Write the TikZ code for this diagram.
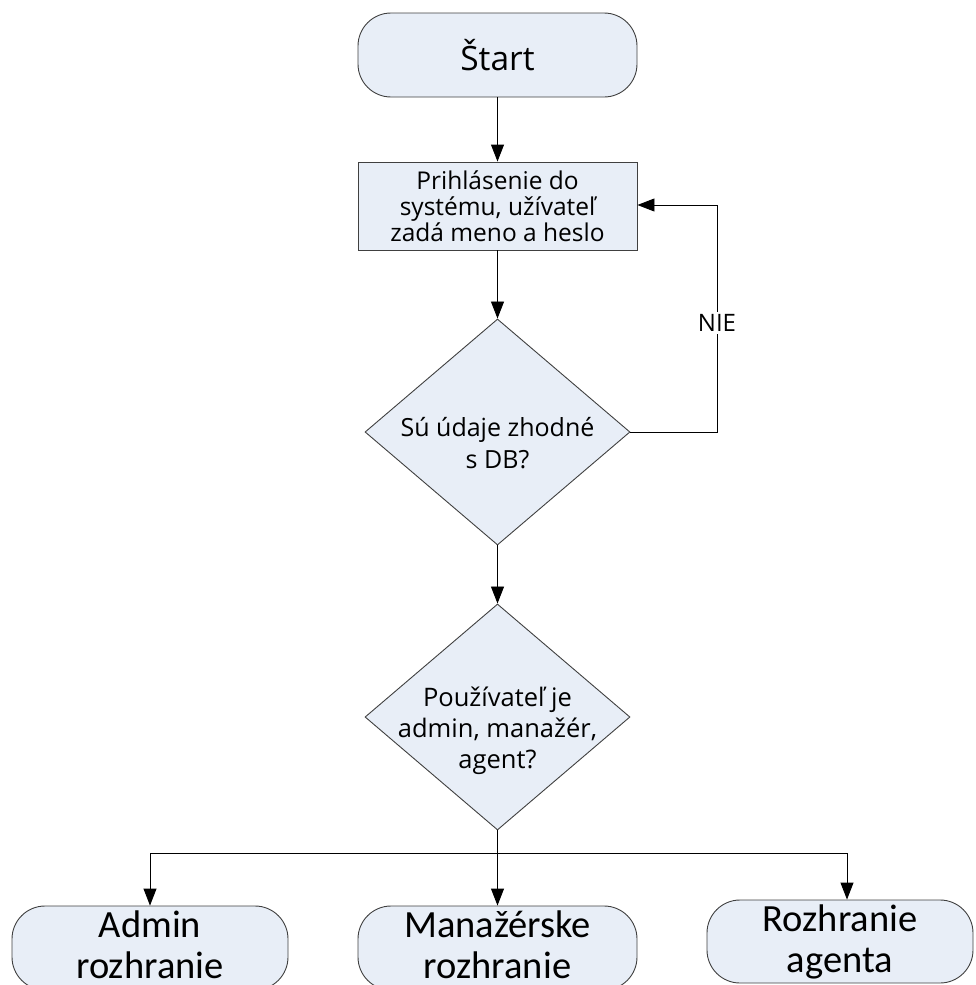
\documentclass[tikz,border=0pt]{standalone}
\usepackage{fontspec}
\setmainfont{Open Sans}
\newfontfamily\calib{Carlito}
\usetikzlibrary{arrows.meta,shapes.geometric}
\definecolor{shapefill}{RGB}{232,238,247}
\definecolor{edgegrey}{RGB}{64,64,64}
\tikzset{
  base/.style={draw=edgegrey, line width=0.9pt, fill=shapefill, inner sep=0pt, align=center},
  terminal/.style={base, rectangle, rounded corners=33pt, minimum width=279pt, minimum height=84pt},
  process/.style={base, rectangle, minimum width=279pt, minimum height=88pt},
  decision/.style={base, diamond, minimum width=265pt, minimum height=226pt},
  lbl/.style={inner sep=0pt, align=center},
  flow/.style={draw=black, line width=0.9pt, -{Triangle[length=17pt,width=13pt]}},
  link/.style={draw=black, line width=0.9pt},
  bigtext/.style={font=\calib\fontsize{38.5}{41}\selectfont},
}
\begin{document}
\begin{tikzpicture}[x=1pt,y=-1pt]
\useasboundingbox (0,0) rectangle (975,985);
\clip (0,0) rectangle (975,985);

% main column
\node[terminal, font=\fontsize{33.5}{40}\selectfont] (start) at (497.5,55) {Štart};
\node[process, font=\fontsize{24.5}{26}\selectfont] (login) at (497.5,206)
  {Prihlásenie do\\systému, užívateľ\\zadá meno a heslo};
\node[decision] (check) at (497.5,432) {};
\node[lbl, font=\fontsize{25}{32}\selectfont] (checktext) at ([yshift=-11pt]check.center)
  {Sú údaje zhodné\\s DB?};
\node[decision] (role) at (497.5,717) {};
\node[lbl, font=\fontsize{25.5}{31}\selectfont] (roletext) at ([yshift=-14pt]role.center)
  {Používateľ je\\admin, manažér,\\agent?};

% three interfaces
\node[terminal, minimum width=276pt] (admin) at (150,948) {};
\node[lbl, bigtext] (admintext) at ([yshift=3pt]admin.center) {Admin\\rozhranie};
\node[terminal] (manager) at (497.5,948) {};
\node[lbl, bigtext] (managertext) at ([yshift=3pt]manager.center) {Manažérske\\rozhranie};
\node[terminal, bigtext, minimum width=266pt, minimum height=83pt] (agent) at (840,941.5)
  {Rozhranie\\agenta};

% connectors
\draw[flow] (start) -- (login);
\draw[flow] (login) -- (check);
\coordinate (back) at (717,205);
\draw[flow] (check.east) -| (back) -- (login.east |- back);
\node[fill=white, inner sep=2pt, font=\fontsize{24}{28}\selectfont] (no) at (717,323) {NIE};
\draw[flow] (check) -- (role);
\coordinate (hub) at (497.5,853);
\draw[link] (role.south) -- (hub);
\draw[flow] (hub) -| (admin.north);
\draw[flow] (hub) -- (manager.north);
\draw[flow] (hub) -| ([xshift=7pt]agent.north);
\end{tikzpicture}
\end{document}
